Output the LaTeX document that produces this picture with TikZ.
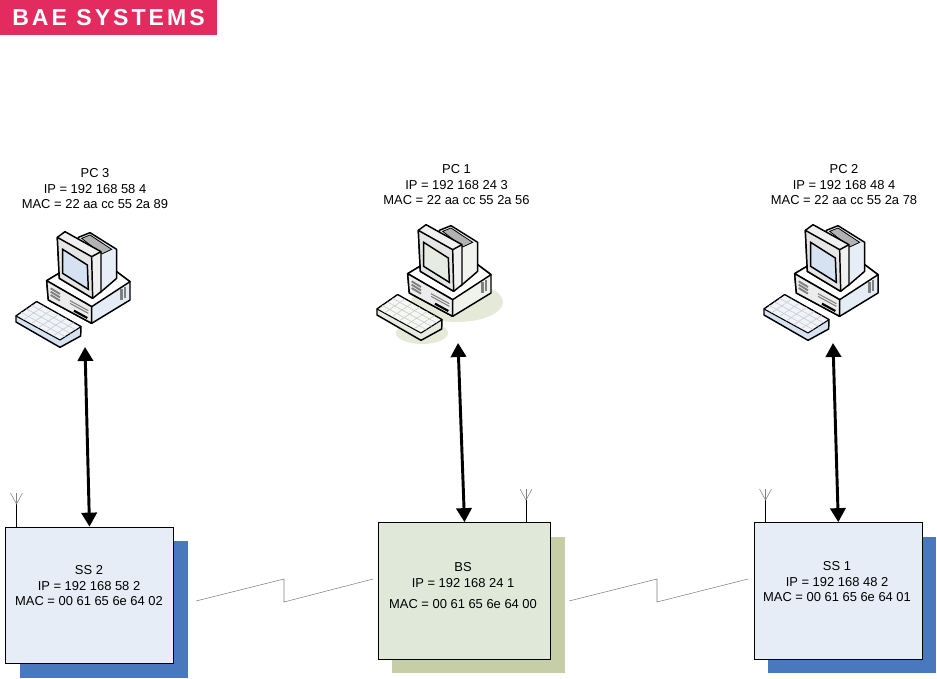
\documentclass[tikz,border=0pt]{standalone}
\usepackage{fontspec}
\setmainfont{Liberation Sans}
\newfontfamily\logofont[LetterSpace=13]{Liberation Sans}
\usepackage{tikz}
\usetikzlibrary{positioning,arrows.meta,calc}
\definecolor{logored}{HTML}{E32B60}
\definecolor{ssfill}{HTML}{E6EDF7}
\definecolor{ssshadow}{HTML}{4A78BF}
\definecolor{bsfill}{HTML}{E0E8DA}
\definecolor{bsshadow}{HTML}{C6CEA8}
\definecolor{pcblue}{HTML}{C4D4EC}
\definecolor{pcgreen}{HTML}{DCE4D4}
\tikzset{
  every node/.style={font=\fontsize{9.7}{11.6}\selectfont,align=center,inner sep=0pt},
  netbox/.style={draw,line width=0.8pt,minimum height=102.5pt},
  shadowbox/.style={minimum height=102.5pt},
  linkline/.style={draw=gray,line width=0.4pt},
  biarrow/.style={line width=2.2pt,{Triangle[length=10.5pt,width=11.5pt]}-{Triangle[length=10.5pt,width=11.5pt]}},
  pics/pcicon/.style={code={
    % keyboard
    \draw[line width=1.1pt,fill=#1!70!white,line join=round] (48,498) -- (110,455) -- (243,530) -- (242,558) -- (180,592) -- (48,516) -- cycle;
    \draw[line width=0.8pt,fill=#1!25!white,line join=round] (48,498) -- (110,455) -- (243,530) -- (180,570) -- cycle;
    \foreach \i in {1,...,5}{
      \draw[gray!45,line width=0.4pt] ($(48,498)!{\i/6}!(180,570)$) -- ($(110,455)!{\i/6}!(243,530)$);}
    \foreach \i in {1,2,3}{
      \draw[gray!45,line width=0.4pt] ($(48,498)!{\i/4}!(110,455)$) -- ($(180,570)!{\i/4}!(243,530)$);}
    % base
    \draw[line width=1.1pt,fill=#1!45!white,line join=round] (140,392) -- (180,368) -- (350,365) -- (390,395) -- (390,450) -- (275,520) -- (145,450) -- cycle;
    \draw[line width=1.1pt,fill=white,line join=round] (140,392) -- (180,368) -- (350,365) -- (390,395) -- (275,470) -- cycle;
    \draw[line width=1.1pt,fill=gray!15,line join=round] (140,392) -- (275,470) -- (275,520) -- (145,450) -- cycle;
    \draw[line width=1.4pt,gray] (152,415) -- (180,432) (152,425) -- (180,442) (152,435) -- (180,452);
    \draw[line width=0.8pt,gray] (210,452) -- (265,482) (210,460) -- (265,490);
    \draw[line width=1.6pt] (222,482) -- (262,504);
    \draw[line width=2pt,gray] (365,418) -- (365,450) (375,412) -- (375,444);
    % monitor back
    \draw[line width=1.1pt,fill=#1!40!white,line join=round] (235,262) -- (270,248) -- (350,298) -- (350,385) -- (300,428) -- (235,400) -- cycle;
    \draw[line width=0.6pt,fill=gray!60] (245,265) -- (270,255) -- (335,298) -- (305,312) -- cycle;
    % monitor front
    \draw[line width=1.1pt,fill=gray!12,line join=round] (172,262) -- (195,245) -- (303,305) -- (303,425) -- (278,445) -- (178,385) -- cycle;
    \draw[line width=1.1pt,fill=gray!20,line join=round] (172,262) -- (275,320) -- (278,445) -- (178,385) -- cycle;
    \draw[line width=1.1pt] (275,320) -- (303,305);
    \draw[line width=1.1pt,fill=#1!70!white] (188,298) -- (262,345) -- (265,418) -- (188,370) -- cycle;
  }}
}
\begin{document}
\begin{tikzpicture}[x=0.75pt,y=-0.75pt]
  \useasboundingbox (0,0) rectangle (937,678);
  % logo
  \node[fill=logored,minimum width=162.75pt,minimum height=26.25pt] (logo) at (108.5,17.5)
    {\logofont\fontsize{17.3}{18}\selectfont\bfseries\color{white}BAE SYSTEMS};
  % stations
  \fill[bsshadow!45] (457,302) ellipse [x radius=46,y radius=20];
  \fill[bsshadow!45] (422,333) ellipse [x radius=26,y radius=11];
  \foreach \x/\y/\n/\c in {0/150/pc3/pcblue,361/143/pc1/pcgreen,748/143/pc2/pcblue}{
    \begin{scope}[shift={(\x,\y)}]
      \pic[x=0.25pt,y=-0.25pt] (\n) at (0,0) {pcicon=\c};
    \end{scope}}
  \node (pc3txt) at (95,189) {PC 3\\IP = 192 168 58 4\\MAC = 22 aa cc 55 2a 89};
  \node (pc1txt) at (456.5,185) {PC 1\\IP = 192 168 24 3\\MAC = 22 aa cc 55 2a 56};
  \node (pc2txt) at (844,185) {PC 2\\IP = 192 168 48 4\\MAC = 22 aa cc 55 2a 78};
  % boxes
  \foreach \x/\y/\w/\n/\f/\s in {89.5/595.5/126/ss2/ssfill/ssshadow,
    464.5/591/129.3/bs/bsfill/bsshadow,838.3/591/126/ss1/ssfill/ssshadow}{
    \node[shadowbox,minimum width=\w pt,fill=\s] (\n back) at (\x+14,\y+14) {};
    \node[netbox,minimum width=\w pt,fill=\f] (\n) at (\x,\y) {};}
  \node (ss2txt) at (89,586) {SS 2\\IP = 192 168 58 2\\MAC = 00 61 65 6e 64 02};
  \node (bstxt) at (463,586) {BS\\IP = 192 168 24 1\\[4.6pt]MAC = 00 61 65 6e 64 00};
  \node (ss1txt) at (837,582) {SS 1\\IP = 192 168 48 2\\MAC = 00 61 65 6e 64 01};
  % antennas
  \foreach \x/\y/\n in {16.5/493/ss2,526/489/bs,765.5/489/ss1}{
    \coordinate (\n top) at (\x,\y);
    \coordinate (\n mid) at (\x,\y+11);
    \draw[line width=0.7pt] (\n mid) -- (\n mid |- \n.north);
    \draw[gray,line width=0.4pt] ($(\n top)+(-6,0)$) -- (\n mid) -- ($(\n top)+(6,0)$);
    \draw[gray,line width=0.4pt] (\n top) -- (\n mid);}
  % arrows
  \coordinate (pc3foot) at (85,347);
  \coordinate (pc1foot) at (458,343);
  \coordinate (pc2foot) at (833,343);
  \draw[biarrow] (pc3foot) -- (ss2.north);
  \draw[biarrow] (pc1foot) -- (bs.north);
  \draw[biarrow] (pc2foot) -- (ss1.north);
  % wireless links
  \foreach \x/\w/\a/\b in {196/89/linkaa/linkab,569/91/linkba/linkbb}{
    \coordinate (\a) at (\x,601);
    \coordinate (\b) at (\x+88+\w,579);
    \draw[linkline] (\a) -- ++(88,-22) -- ++(0,23) -- (\b);}
\end{tikzpicture}
\end{document}
